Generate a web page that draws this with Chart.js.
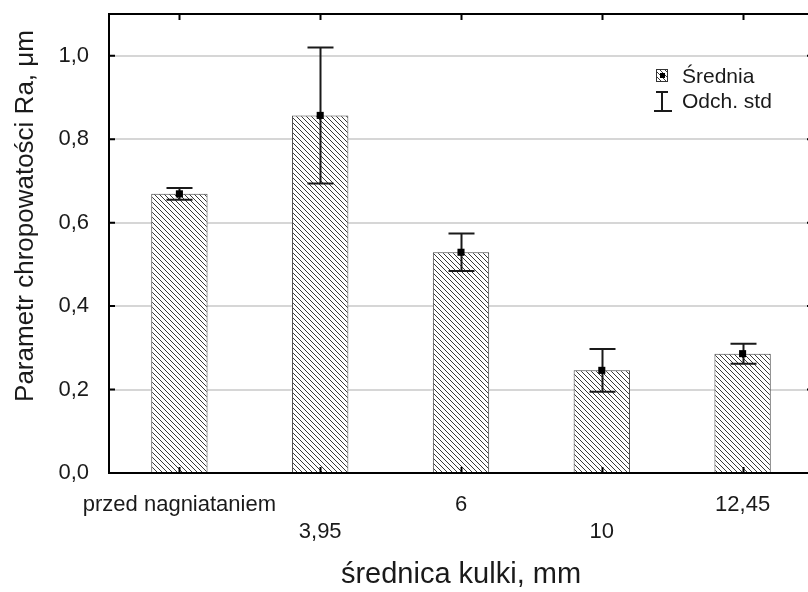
<!DOCTYPE html>
<html>
<head>
<meta charset="utf-8">
<script src="https://cdn.jsdelivr.net/npm/chart.js@4.4.1/dist/chart.umd.min.js"></script>
<style>
html,body{margin:0;padding:0;background:#fff;overflow:hidden}
canvas{display:block}
</style>
</head>
<body>
<canvas id="c" width="818" height="592" style="width:818px;height:592px"></canvas>
<script>
// ---- data ----
const categories = [['przed nagniataniem'], ['', '3,95'], ['6'], ['', '10'], ['12,45']];
const meanValues = [0.669, 0.857, 0.529, 0.246, 0.286];
const stdValues  = [0.014, 0.163, 0.045, 0.051, 0.024];
const yTickValues = [0, 0.2, 0.4, 0.6, 0.8, 1.0];
const legendLabels = ['Średnia', 'Odch. std'];
const yTitle = 'Parametr chropowatości Ra, μm';
const xTitle = 'średnica kulki, mm';

const FONT = '"Liberation Sans", Arial, sans-serif';

function makeHatch(ctx, s) {
  const c = document.createElement('canvas');
  c.width = s; c.height = s;
  const g = c.getContext('2d');
  g.fillStyle = '#fff';
  g.fillRect(0, 0, s, s);
  g.strokeStyle = '#3a3a3a';
  g.lineWidth = 1;
  g.beginPath();
  g.moveTo(-1, -1); g.lineTo(s + 1, s + 1);
  g.moveTo(s - 1, -1); g.lineTo(s + 1, 1);
  g.moveTo(-1, s - 1); g.lineTo(1, s + 1);
  g.stroke();
  return ctx.createPattern(c, 'repeat');
}

const canvas = document.getElementById('c');
const ctx0 = canvas.getContext('2d');
const hatch = makeHatch(ctx0, 5);

const decor = {
  id: 'decor',
  beforeDraw(chart) {
    const ctx = chart.ctx;
    ctx.save();
    ctx.fillStyle = '#fff';
    ctx.fillRect(0, 0, chart.width, chart.height);
    ctx.restore();
  },
  afterDatasetDraw(chart, args) {
    if (args.index !== 0) return;
    const ctx = chart.ctx;
    const xs = chart.scales.x, ys = chart.scales.y;
    ctx.save();
    ctx.strokeStyle = '#1a1a1a';
    ctx.lineWidth = 2;
    meanValues.forEach((m, i) => {
      const x = Math.round(xs.getPixelForValue(i)) + 0.5;
      const yt = ys.getPixelForValue(m + stdValues[i]);
      const yb = ys.getPixelForValue(m - stdValues[i]);
      ctx.beginPath();
      ctx.moveTo(x, yt); ctx.lineTo(x, yb);
      ctx.moveTo(x - 13, yt); ctx.lineTo(x + 13, yt);
      ctx.moveTo(x - 13, yb); ctx.lineTo(x + 13, yb);
      ctx.stroke();
    });
    ctx.restore();
  },
  afterDraw(chart) {
    const ctx = chart.ctx;
    const a = chart.chartArea;
    const xs = chart.scales.x, ys = chart.scales.y;
    ctx.save();
    ctx.strokeStyle = '#000';
    ctx.lineWidth = 2;
    // frame top and right
    ctx.beginPath();
    ctx.moveTo(a.left - 1, a.top); ctx.lineTo(a.right, a.top);
    ctx.moveTo(a.right, a.top); ctx.lineTo(a.right, a.bottom);
    ctx.stroke();
    // inward ticks
    ctx.beginPath();
    yTickValues.forEach(v => {
      const y = ys.getPixelForValue(v);
      ctx.moveTo(a.left, y); ctx.lineTo(a.left + 6, y);
      ctx.moveTo(a.right, y); ctx.lineTo(a.right - 6, y);
    });
    meanValues.forEach((m, i) => {
      const x = Math.round(xs.getPixelForValue(i)) + 0.5;
      ctx.moveTo(x, a.bottom); ctx.lineTo(x, a.bottom - 6);
      ctx.moveTo(x, a.top); ctx.lineTo(x, a.top + 6);
    });
    ctx.stroke();

    // axis titles
    ctx.fillStyle = '#1a1a1a';
    ctx.font = '29px ' + FONT;
    ctx.textAlign = 'center';
    ctx.textBaseline = 'middle';
    ctx.fillText(xTitle, (a.left + a.right) / 2, 575);
    ctx.font = '26px ' + FONT;
    ctx.save();
    ctx.translate(26, 216);
    ctx.rotate(-Math.PI / 2);
    ctx.fillText(yTitle, 0, 0);
    ctx.restore();

    // legend
    ctx.font = '21px ' + FONT;
    ctx.textAlign = 'left';
    ctx.fillText(legendLabels[0], 682, 77);
    ctx.fillText(legendLabels[1], 682, 102);
    ctx.fillStyle = hatch;
    ctx.fillRect(656, 69, 12, 13);
    ctx.lineWidth = 1;
    ctx.strokeStyle = '#333';
    ctx.strokeRect(656.5, 69.5, 11, 12);
    ctx.fillStyle = '#000';
    ctx.fillRect(660, 73, 5, 5);
    ctx.lineWidth = 2;
    ctx.strokeStyle = '#1a1a1a';
    ctx.beginPath();
    ctx.moveTo(662, 92); ctx.lineTo(662, 111);
    ctx.moveTo(656, 92); ctx.lineTo(668, 92);
    ctx.moveTo(654, 111); ctx.lineTo(672, 111);
    ctx.stroke();
    ctx.restore();
  }
};

new Chart(canvas, {
  type: 'bar',
  data: {
    labels: categories,
    datasets: [
      {
        type: 'bar',
        label: legendLabels[0],
        data: meanValues,
        backgroundColor: hatch,
        borderColor: '#444',
        borderWidth: 1,
        borderSkipped: 'bottom',
        barPercentage: 0.4,
        categoryPercentage: 1.0,
        order: 1
      },
      {
        type: 'line',
        label: 'mean',
        data: meanValues,
        showLine: false,
        pointStyle: 'rect',
        pointRadius: 5,
        pointHoverRadius: 5,
        pointBackgroundColor: '#000',
        pointBorderColor: '#000',
        pointBorderWidth: 0,
        order: 0
      }
    ]
  },
  options: {
    responsive: false,
    maintainAspectRatio: false,
    animation: false,
    devicePixelRatio: 1,
    events: [],
    layout: { padding: { top: 14, right: 0, left: 0, bottom: 0 } },
    plugins: {
      legend: { display: false },
      tooltip: { enabled: false }
    },
    scales: {
      x: {
        offset: true,
        grid: { display: false, drawTicks: false },
        border: { display: true, color: '#000', width: 2 },
        ticks: {
          autoSkip: false,
          maxRotation: 0,
          minRotation: 0,
          padding: 19,
          color: '#1a1a1a',
          font: { family: FONT, size: 22, lineHeight: 1.2 }
        },
        afterFit(scale) { scale.height = 119; scale.paddingLeft = 0; scale.paddingRight = 0; }
      },
      y: {
        min: 0,
        max: 1.1,
        afterBuildTicks(axis) { axis.ticks = yTickValues.map(v => ({ value: v })); },
        grid: { color: '#d6d6d6', lineWidth: 2, drawTicks: false },
        border: { display: true, color: '#000', width: 2 },
        ticks: {
          padding: 20,
          color: '#1a1a1a',
          font: { family: FONT, size: 22 },
          callback: v => v.toFixed(1).replace('.', ',')
        },
        afterFit(scale) { scale.width = 109; scale.paddingTop = 0; scale.paddingBottom = 0; }
      }
    }
  },
  plugins: [decor]
});
</script>
</body>
</html>
